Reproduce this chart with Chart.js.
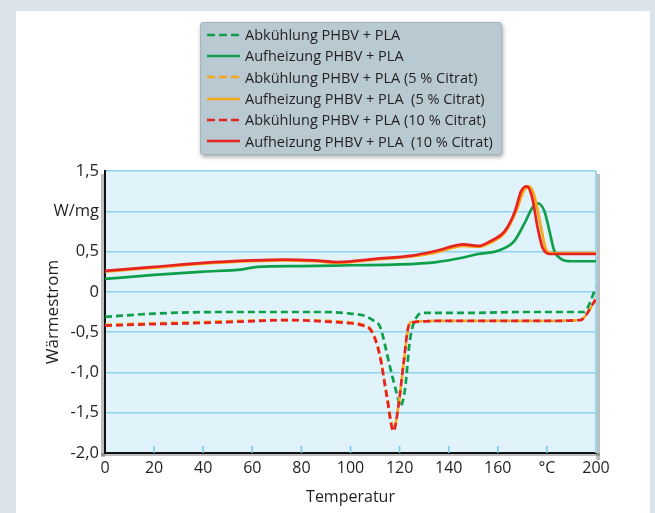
<!DOCTYPE html>
<html lang="de">
<head>
<meta charset="UTF-8">
<title>Wärmestrom</title>
<script src="https://cdn.jsdelivr.net/npm/chart.js@4.4.1/dist/chart.umd.min.js"></script>
<style>
    html, body { margin: 0; padding: 0; }
    body { width: 655px; height: 513px; background: #dce3e9; position: relative; overflow: hidden; font-family: "Open Sans", sans-serif; }
    #panel { position: absolute; left: 16px; top: 11px; width: 634px; height: 520px; background: #fff; }
    #chart { position: absolute; left: 0; top: 0; }
    #legend { position: absolute; left: 200px; top: 22px; width: 302px; height: 133px; box-sizing: border-box;
              background: #b9c9d2; border: 1px solid #a4b5be; border-radius: 3px;
              box-shadow: 1px 2px 4px rgba(0,0,0,0.35); padding-top: 1px; }
    .row { height: 21.3px; display: flex; align-items: center; font-size: 14.5px; color: #231f20; white-space: pre; }
    .row svg { margin-left: 6px; margin-right: 5px; }
</style>
</head>
<body>
<div id="panel"></div>
<canvas id="chart" width="655" height="513"></canvas>
<div id="legend"></div>

<script>
    // ---- data (temperature in °C, heat flow in W/mg) ----

    // Abkühlung PHBV + PLA
    const coolPlainT = [0, 20, 48, 70, 89, 100, 106, 109.5, 112, 116, 119.5, 120.3, 122.2, 124.2, 127, 130, 150, 170, 195, 200];
    const coolPlainW = [-0.31, -0.27, -0.25, -0.25, -0.25, -0.27, -0.30, -0.36, -0.43, -0.92, -1.34, -1.42, -1.21, -0.60, -0.31, -0.26, -0.26, -0.25, -0.25, 0.05];

    // Aufheizung PHBV + PLA
    const heatPlainT = [0, 20, 40, 56, 62, 80, 100, 120, 135, 145, 152, 160, 166.7, 170.7, 174.2, 176.2, 179, 181, 183, 185.7, 190, 200];
    const heatPlainW = [0.16, 0.21, 0.25, 0.28, 0.31, 0.32, 0.33, 0.34, 0.37, 0.42, 0.47, 0.51, 0.63, 0.84, 1.05, 1.10, 1.0, 0.76, 0.51, 0.41, 0.38, 0.38];

    // Abkühlung PHBV + PLA (5 % Citrat)
    const cool5T = [0, 20, 35, 55, 75, 90, 100, 104, 108.6, 112, 114.8, 117.6, 119.6, 121.7, 123.7, 125.2, 140, 160, 180, 193.5, 200];
    const cool5W = [-0.41, -0.39, -0.38, -0.36, -0.35, -0.36, -0.38, -0.40, -0.48, -0.78, -1.28, -1.70, -1.40, -0.87, -0.42, -0.37, -0.36, -0.36, -0.36, -0.35, -0.10];

    // Aufheizung PHBV + PLA (5 % Citrat)
    const heat5T = [0, 20, 40, 60, 73, 85, 95, 110, 125, 135, 146, 152, 157, 163, 167.5, 170.5, 172.8, 175, 177.6, 179.6, 182, 190, 200];
    const heat5W = [0.25, 0.30, 0.35, 0.38, 0.39, 0.38, 0.36, 0.40, 0.44, 0.49, 0.57, 0.56, 0.61, 0.74, 1.0, 1.25, 1.31, 1.18, 0.80, 0.53, 0.48, 0.48, 0.48];

    // Abkühlung PHBV + PLA (10 % Citrat)
    const cool10T = [0, 20, 35, 55, 75, 90, 100, 104, 108.6, 112, 114.8, 117.5, 119.5, 121.6, 123.6, 125, 140, 160, 180, 193.5, 200];
    const cool10W = [-0.42, -0.40, -0.39, -0.37, -0.35, -0.37, -0.39, -0.41, -0.49, -0.80, -1.30, -1.73, -1.42, -0.89, -0.43, -0.38, -0.36, -0.36, -0.36, -0.35, -0.09];

    // Aufheizung PHBV + PLA (10 % Citrat)
    const heat10T = [0, 20, 40, 60, 73, 85, 95, 110, 125, 135, 146, 152, 157, 163, 167, 169.5, 171.8, 174, 176.2, 178.2, 181, 190, 200];
    const heat10W = [0.26, 0.31, 0.36, 0.39, 0.40, 0.39, 0.37, 0.41, 0.45, 0.51, 0.59, 0.57, 0.63, 0.76, 1.0, 1.25, 1.31, 1.17, 0.80, 0.55, 0.47, 0.47, 0.47];

    const seriesLabels = [
        'Abkühlung PHBV + PLA',
        'Aufheizung PHBV + PLA',
        'Abkühlung PHBV + PLA (5 % Citrat)',
        'Aufheizung PHBV + PLA  (5 % Citrat)',
        'Abkühlung PHBV + PLA (10 % Citrat)',
        'Aufheizung PHBV + PLA  (10 % Citrat)'
    ];
    const seriesColors = ['#0e9f4a', '#0e9f4a', '#f9a61a', '#f9a61a', '#e52320', '#e52320'];
    const seriesDashed = [true, false, true, false, true, false];

    const xTickLabels = ['0', '20', '40', '60', '80', '100', '120', '140', '160', '°C', '200'];
    const yTickLabels = ['-2,0', '-1,5', '-1,0', '-0,5', '0', '0,5', 'W/mg', '1,5'];

    // ---- build chart ----
    function toPoints(t, w) {
        return t.map((x, i) => ({x: x, y: w[i]}));
    }

    const seriesPoints = [
        toPoints(coolPlainT, coolPlainW),
        toPoints(heatPlainT, heatPlainW),
        toPoints(cool5T, cool5W),
        toPoints(heat5T, heat5W),
        toPoints(cool10T, cool10W),
        toPoints(heat10T, heat10W)
    ];
    // red on top, then orange, green at the bottom
    const drawOrder = [2, 2, 1, 1, 0, 0];

    const datasets = seriesPoints.map((pts, i) => ({
        label: seriesLabels[i],
        data: pts,
        borderColor: seriesColors[i],
        borderWidth: 2.7,
        borderDash: seriesDashed[i] ? [7, 4] : [],
        pointRadius: 0,
        cubicInterpolationMode: 'monotone',
        fill: false,
        order: drawOrder[i]
    }));

    // plot background, shadows, right edge and the small inner x ticks
    const plotFrame = {
        id: 'plotFrame',
        beforeDraw(chart) {
            const ctx = chart.ctx, a = chart.chartArea;
            ctx.save();
            ctx.fillStyle = 'rgba(70,70,70,0.35)';
            ctx.fillRect(a.left - 4, a.top + 3, 4, a.bottom - a.top + 1);
            ctx.fillRect(a.right, a.top + 3, 4, a.bottom - a.top + 4);
            ctx.fillRect(a.left - 4, a.bottom, a.right - a.left + 8, 3);
            ctx.fillStyle = '#e0f2fa';
            ctx.fillRect(a.left, a.top, a.right - a.left, a.bottom - a.top);
            ctx.restore();
        },
        beforeDatasetsDraw(chart) {
            const ctx = chart.ctx, a = chart.chartArea, xs = chart.scales.x;
            ctx.save();
            ctx.strokeStyle = '#9ad6ef';
            ctx.lineWidth = 2;
            ctx.beginPath();
            ctx.moveTo(a.right, a.top);
            ctx.lineTo(a.right, a.bottom);
            ctx.stroke();
            ctx.strokeStyle = '#74c6ea';
            ctx.lineWidth = 1.5;
            xs.ticks.forEach(t => {
                if (t.value <= xs.min || t.value >= xs.max) return;
                const px = xs.getPixelForValue(t.value);
                ctx.beginPath();
                ctx.moveTo(px, a.bottom);
                ctx.lineTo(px, a.bottom - 7);
                ctx.stroke();
            });
            ctx.restore();
        }
    };

    Chart.defaults.font.family = "'Open Sans', sans-serif";
    Chart.defaults.color = '#231f20';

    new Chart(document.getElementById('chart'), {
        type: 'line',
        data: {datasets: datasets},
        options: {
            responsive: false,
            animation: false,
            devicePixelRatio: 1,
            layout: {padding: {left: 0, right: 59, top: 171, bottom: 0}},
            plugins: {legend: {display: false}, tooltip: {enabled: false}},
            scales: {
                x: {
                    type: 'linear',
                    min: 0,
                    max: 200,
                    afterFit: s => { s.height = 60; },
                    ticks: {
                        stepSize: 20,
                        autoSkip: false,
                        maxRotation: 0,
                        padding: 6,
                        font: {size: 16},
                        callback: (v, i) => xTickLabels[i]
                    },
                    grid: {drawOnChartArea: false, drawTicks: false},
                    border: {color: '#111', width: 2},
                    title: {display: true, text: 'Temperatur', font: {size: 16}, padding: {top: 0, bottom: 6}}
                },
                y: {
                    min: -2,
                    max: 1.5,
                    afterFit: s => { s.width = 105; },
                    ticks: {
                        stepSize: 0.5,
                        autoSkip: false,
                        padding: 6,
                        font: {size: 16.5},
                        callback: (v, i) => yTickLabels[i]
                    },
                    grid: {color: '#8fd3ef', lineWidth: 1.5, drawTicks: false},
                    border: {color: '#111', width: 2},
                    title: {display: true, text: 'Wärmestrom', font: {size: 17}, padding: {top: 43, bottom: 0}}
                }
            }
        },
        plugins: [plotFrame]
    });

    // legend box, built from the same series arrays
    const legendBox = document.getElementById('legend');
    seriesLabels.forEach((label, i) => {
        const row = document.createElement('div');
        row.className = 'row';
        const dash = seriesDashed[i] ? ' stroke-dasharray="8,4"' : '';
        row.innerHTML = '<svg width="33" height="4"><line x1="0" y1="2" x2="33" y2="2" stroke="' +
            seriesColors[i] + '" stroke-width="2.7"' + dash + '/></svg>';
        const span = document.createElement('span');
        span.textContent = label;
        row.appendChild(span);
        legendBox.appendChild(row);
    });
</script>
</body>
</html>
